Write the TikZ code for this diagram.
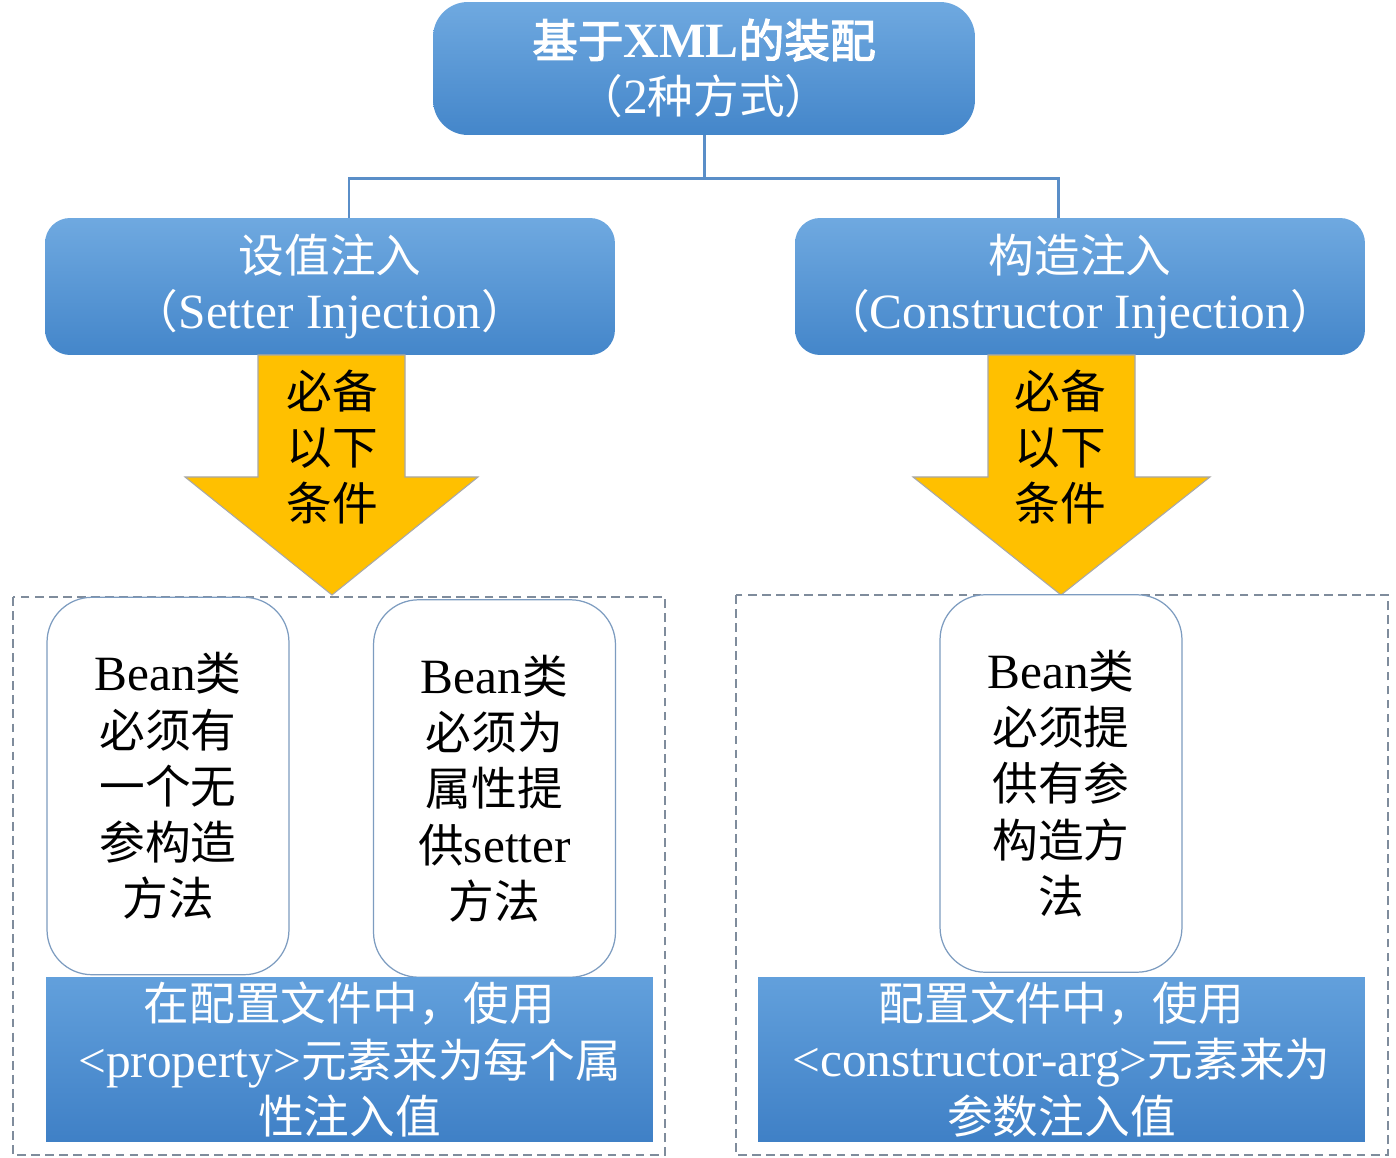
\documentclass[tikz,border=0pt]{standalone}
\usepackage{fontspec}
\setmainfont{Noto Sans CJK SC}[AutoFakeBold=2.5]
\newfontfamily\lat{Liberation Serif}[Scale=1.08]
\definecolor{blueT}{HTML}{6FA9E0}
\definecolor{blueB}{HTML}{4486CA}
\definecolor{blueT2}{HTML}{62A0DC}
\definecolor{blueB2}{HTML}{3F80C6}
\definecolor{connC}{HTML}{5A8EC8}
\definecolor{arrowY}{HTML}{FFC000}
\definecolor{arrowL}{HTML}{A8A8A8}
\definecolor{dashC}{HTML}{7F8C9C}
\definecolor{whiteL}{HTML}{7D9CC0}
\tikzset{
  bigfont/.style={font=\fontsize{26}{32}\selectfont},
  topbox/.style={rounded corners=0.7cm, top color=blueT, bottom color=blueB, draw=none,
    text=white, align=center, bigfont, inner sep=0pt, minimum width=10.84cm, minimum height=2.66cm},
  midbox/.style={rounded corners=0.5cm, top color=blueT, bottom color=blueB, draw=none,
    text=white, align=center, bigfont, inner sep=0pt, minimum width=11.4cm, minimum height=2.74cm},
  condbox/.style={rounded corners=0.9cm, fill=white, draw=whiteL, line width=0.7pt,
    text=black, align=center, bigfont, inner sep=0pt, minimum width=4.84cm, minimum height=7.55cm},
  cfgbox/.style={top color=blueT2, bottom color=blueB2, draw=none,
    text=white, align=center, bigfont, inner sep=0pt, minimum width=12.14cm, minimum height=3.3cm},
  blockarrow/.style={fill=arrowY, draw=arrowL, line width=0.6pt},
  arrowtext/.style={text=black, align=center, bigfont, inner sep=0pt},
  conn/.style={draw=connC, line width=1.7pt},
  dashframe/.style={draw=dashC, line width=0.8pt, dash pattern=on 5pt off 3pt},
}
\begin{document}
\begin{tikzpicture}[x=0.02cm,y=-0.02cm]
\useasboundingbox (0,0) rectangle (1396,1158);
\fill[white] (0,0) rectangle (1396,1158);

% top and second level boxes
\node[topbox] (top) at (704,68.5) {{\bfseries 基于}{\lat\bfseries XML}{\bfseries 的装配}\\（{\lat 2}种方式）};
\node[midbox] (lbox) at (330,286.5) {设值注入\\（{\lat Setter Injection}）};
\node[midbox] (rbox) at (1080,286.5) {构造注入\\（{\lat Constructor Injection}）};

% connectors
\draw[conn] (top.south) -- ++(0,43) -| ([xshift=0.38cm]lbox.north);
\draw[conn] (top.south) -- ++(0,43) -| ([xshift=-0.44cm]rbox.north);

% dashed frames
\draw[dashframe] (13,597) rectangle (665,1155);
\draw[dashframe] (736,595) rectangle (1388,1155);

% block arrows
\draw[blockarrow] (258,355) -- (405,355) -- (405,477) -- (478,477) -- (332,595) -- (185,477) -- (258,477) -- cycle;
\node[arrowtext] (lat) at (332,447) {必备\\以下\\条件};
\draw[blockarrow] (988,355) -- (1135,355) -- (1135,477) -- (1210,477) -- (1061,595) -- (913,477) -- (988,477) -- cycle;
\node[arrowtext] (rat) at (1060,447) {必备\\以下\\条件};

% condition boxes
\node[condbox] (c1) at (168,786) {{\lat Bean}类\\必须有\\一个无\\参构造\\方法};
\node[condbox] (c2) at (494.5,788.5) {{\lat Bean}类\\必须为\\属性提\\供{\lat setter}\\方法};
\node[condbox] (c3) at (1061,783.5) {{\lat Bean}类\\必须提\\供有参\\构造方\\法};

% configuration boxes
\node[cfgbox] (cfgL) at (349.5,1059.5) {在配置文件中，使用\\{\lat <property>}元素来为每个属\\性注入值};
\node[cfgbox] (cfgR) at (1061.5,1059.5) {配置文件中，使用\\{\lat <constructor-arg>}元素来为\\参数注入值};
\end{tikzpicture}
\end{document}
